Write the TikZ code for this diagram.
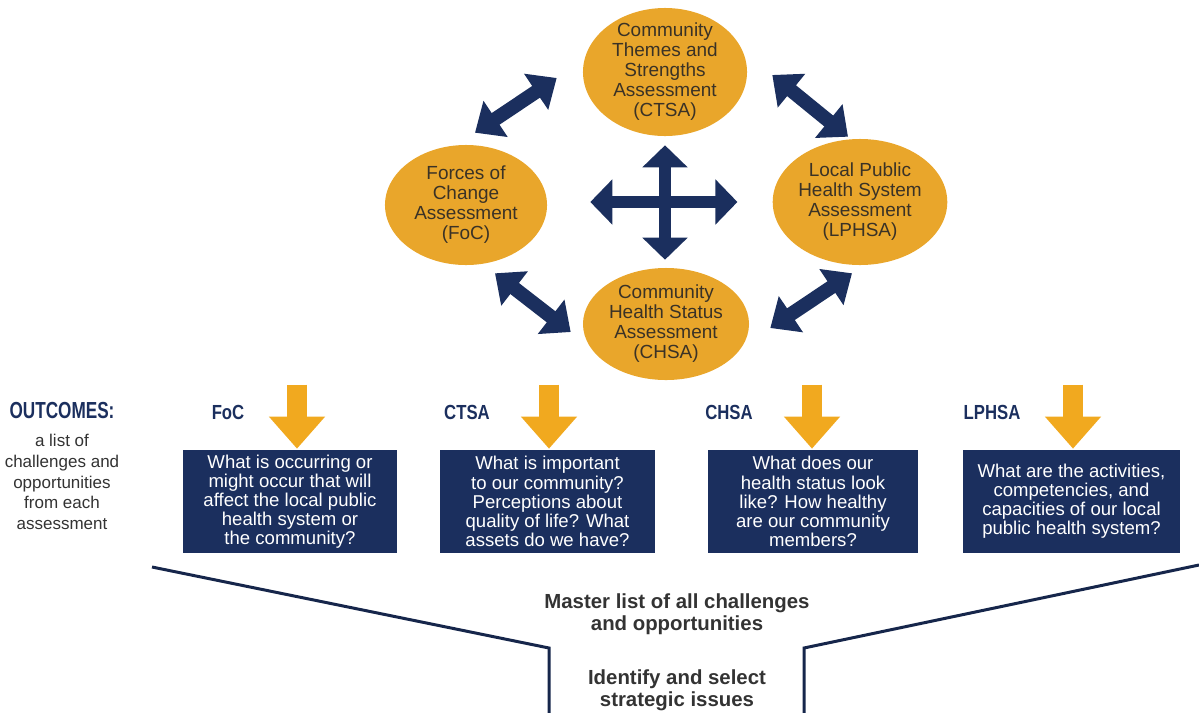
\documentclass[tikz,border=0pt]{standalone}
\usepackage{fontspec}
\setmainfont{Liberation Sans}
\usepackage{graphicx}
\usetikzlibrary{arrows.meta, shapes.geometric, positioning}

\definecolor{navyblue}{HTML}{1B2F5E}
\definecolor{gold}{HTML}{E9A62B}
\definecolor{amber}{HTML}{F1A91F}
\definecolor{inkbrown}{HTML}{3A3226}
\definecolor{inkgray}{HTML}{333333}

\newcommand{\narrow}[1]{\scalebox{0.82}[1]{#1}}

\begin{document}
\begin{tikzpicture}[x=0.025cm, y=-0.025cm,
    assess/.style={ellipse, fill=gold, text=inkbrown, inner xsep=0pt, inner ysep=-3pt,
        align=center, font=\fontsize{13.5}{14.2}\selectfont},
    question/.style={rectangle, fill=navyblue, text=white, align=center, inner sep=0pt,
        minimum height=2.575cm, font=\fontsize{13.2}{13.6}\selectfont},
    tag/.style={text=navyblue, inner sep=0pt, font=\fontsize{14.5}{15}\selectfont\bfseries},
    link/.style={navyblue, line width=0.35cm,
        {Triangle[length=0.62cm, width=1.05cm]}-{Triangle[length=0.62cm, width=1.05cm]}},
    hub/.style={navyblue, line width=0.3cm,
        {Triangle[length=0.55cm, width=1.1cm]}-{Triangle[length=0.55cm, width=1.1cm]}},
    feed/.style={amber, line width=0.5cm, -{Triangle[length=0.8cm, width=1.35cm]}},
    funnel/.style={draw=navyblue!80!black, line width=0.075cm},
    stage/.style={text=inkgray, align=center, inner sep=0pt, font=\fontsize{14.5}{15.6}\selectfont\bfseries}]

    \useasboundingbox (0,0) rectangle (1199,712);

    % the four assessments
    \node[assess, minimum width=4.1cm, minimum height=3.2cm] (ctsa) at (665,72)
        {Community\\Themes and\\Strengths\\Assessment\\(CTSA)};
    \node[assess, minimum width=4.05cm, minimum height=3cm] (foc) at (466,205)
        {Forces of\\Change\\Assessment\\(FoC)};
    \node[assess, minimum width=4.15cm, minimum height=3.15cm] (lphsa) at (860,202)
        {Local Public\\Health System\\Assessment\\(LPHSA)};
    \node[assess, minimum width=4.15cm, minimum height=2.8cm] (chsa) at (666,324)
        {Community\\Health Status\\Assessment\\(CHSA)};

    \draw[link] ([shift={(9,-12)}]foc.north) -- ([shift={(-26,6)}]ctsa.west);
    \draw[link] ([shift={(25,3)}]ctsa.east) -- ([shift={(-12,-2)}]lphsa.north);
    \draw[link] ([shift={(29,8)}]foc.south) -- ([shift={(-12,8)}]chsa.west);
    \draw[link] ([shift={(21,4)}]chsa.east) -- ([shift={(-8,8)}]lphsa.south);

    \draw[hub] ([shift={(0,9)}]ctsa.south) -- ([shift={(-1,-8)}]chsa.north);
    \draw[hub] ([shift={(43,-3)}]foc.east) -- ([shift={(-35,0)}]lphsa.west);

    % outcomes
    \node[text=navyblue, inner sep=0pt, font=\fontsize{16.5}{17}\selectfont\bfseries] (outhead) at (62,411)
        {\scalebox{0.74}[1]{OUTCOMES:}};
    \node[below=0.35cm of outhead, text=inkgray, align=center, inner sep=0pt,
        font=\fontsize{12.1}{14.9}\selectfont] (outtext)
        {a list of\\challenges and\\opportunities\\from each\\assessment};

    \node[question, minimum width=5.35cm] (focq) at (290,501.5)
        {What is occurring or\\might occur that will\\affect the local public\\health system or\\the community?};
    \node[question, minimum width=5.375cm] (ctsaq) at (547.5,501.5)
        {What is important\\to our community?\\Perceptions about\\quality of life? What\\assets do we have?};
    \node[question, minimum width=5.25cm] (chsaq) at (813,501.5)
        {What does our\\health status look\\like? How healthy\\are our community\\members?};
    \node[question, minimum width=5.425cm] (lphsaq) at (1071.5,501.5)
        {What are the activities,\\competencies, and\\capacities of our local\\public health system?};

    \node[tag] (foctag) at (228,412) {\narrow{FoC}};
    \node[tag] (ctsatag) at (467,412) {\narrow{CTSA}};
    \node[tag] (chsatag) at (729,412) {\narrow{CHSA}};
    \node[tag] (lphsatag) at (992,412) {\narrow{LPHSA}};

    \draw[feed] ([shift={(7,-65)}]focq.north) -- ([shift={(7,-1)}]focq.north);
    \draw[feed] ([shift={(1.5,-65)}]ctsaq.north) -- ([shift={(1.5,-1)}]ctsaq.north);
    \draw[feed] ([shift={(-1,-65)}]chsaq.north) -- ([shift={(-1,-1)}]chsaq.north);
    \draw[feed] ([shift={(1.5,-65)}]lphsaq.north) -- ([shift={(1.5,-1)}]lphsaq.north);

    % funnel
    \draw[funnel] (152,567) -- (549,648) -- (549,715);
    \draw[funnel] (1199,565) -- (804,648) -- (804,715);

    \node[stage] (master) at (677,614) {Master list of all challenges\\and opportunities};
    \node[stage] (select) at (677,690) {Identify and select\\strategic issues};
\end{tikzpicture}
\end{document}
